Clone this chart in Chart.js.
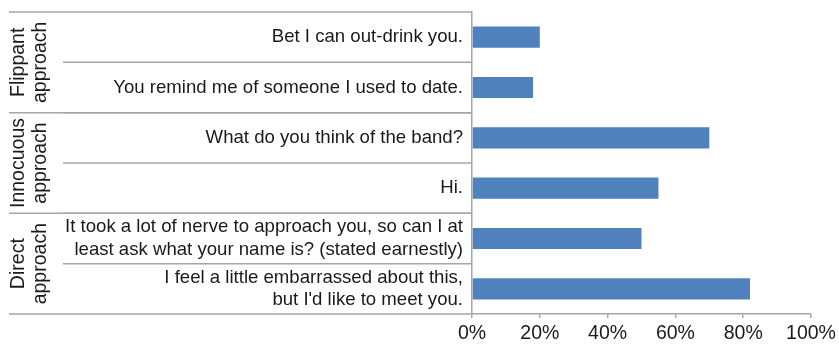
<!DOCTYPE html>
<html>
<head>
<meta charset="utf-8">
<script src="https://cdn.jsdelivr.net/npm/chart.js@4/dist/chart.umd.min.js"></script>
<style>
  html, body { margin: 0; padding: 0; background: #fff; }
  #wrap { width: 839px; height: 344px; }
</style>
</head>
<body>
<div id="wrap"><canvas id="chart"></canvas></div>
<script>
// Pickup lines and their success rate
const lines = [
  "Bet I can out-drink you.",
  "You remind me of someone I used to date.",
  "What do you think of the band?",
  "Hi.",
  ["It took a lot of nerve to approach you, so can I at", "least ask what your name is? (stated earnestly)"],
  ["I feel a little embarrassed about this,", "but I'd like to meet you."]
];
const success = [20, 18, 70, 55, 50, 82];

// Approach groups, top to bottom, and how many lines each holds
const groupNames = [["Flippant", "approach"], ["Innocuous", "approach"], ["Direct", "approach"]];
const groupSizes = [2, 2, 2];

const xTicks = [0, 20, 40, 60, 80, 100];

const FONT = "'Liberation Sans', Arial, sans-serif";
const LINE_COLOR = "#a6a6a6";

// Draws the row dividers and rotated group names left of the plot
const groupPlugin = {
  id: "groups",
  afterDraw(chart) {
    const ctx = chart.ctx;
    const y = chart.scales.y;
    const area = chart.chartArea;
    const half = (y.getPixelForValue(1) - y.getPixelForValue(0)) / 2;
    ctx.save();
    ctx.strokeStyle = LINE_COLOR;
    ctx.lineWidth = 1.5;

    let idx = 0;
    const edges = [];
    for (let i = 0; i <= lines.length; i++) edges.push(y.getPixelForValue(i) - half);

    // inner dividers between lines of the same group
    for (let i = 1; i < lines.length; i++) {
      ctx.beginPath();
      ctx.moveTo(63, edges[i]);
      ctx.lineTo(area.left, edges[i]);
      ctx.stroke();
    }

    // group borders and names
    ctx.fillStyle = "#1a1a1a";
    ctx.font = "19.5px " + FONT;
    ctx.textAlign = "center";
    ctx.textBaseline = "middle";
    for (let g = 0; g <= groupSizes.length; g++) {
      ctx.beginPath();
      ctx.moveTo(9, edges[idx]);
      ctx.lineTo(area.left, edges[idx]);
      ctx.stroke();
      if (g === groupSizes.length) break;
      const top = edges[idx];
      const bottom = edges[idx + groupSizes[g]];
      ctx.save();
      ctx.translate(30, (top + bottom) / 2);
      ctx.rotate(-Math.PI / 2);
      ctx.fillText(groupNames[g][0], 0, -11);
      ctx.fillText(groupNames[g][1], 0, 11);
      ctx.restore();
      idx += groupSizes[g];
    }
    ctx.restore();
  }
};

new Chart(document.getElementById("chart"), {
  type: "bar",
  data: {
    labels: lines,
    datasets: [{
      data: success,
      backgroundColor: "#4f81bd",
      barPercentage: 0.42,
      categoryPercentage: 1
    }]
  },
  options: {
    indexAxis: "y",
    responsive: true,
    maintainAspectRatio: false,
    animation: false,
    layout: { padding: { top: 12, right: 28, left: 0, bottom: 0 } },
    plugins: { legend: { display: false }, tooltip: { enabled: false } },
    scales: {
      x: {
        min: 0,
        max: 100,
        afterBuildTicks(scale) { scale.ticks = xTicks.map(v => ({ value: v })); },
        afterFit(scale) {
          scale.height = 30;
          scale.paddingLeft = 0;
          scale.paddingRight = 0;
        },
        border: { color: LINE_COLOR, width: 1.5 },
        grid: { drawOnChartArea: false, color: LINE_COLOR, lineWidth: 1.5, tickLength: 4 },
        ticks: {
          color: "#1a1a1a",
          font: { family: FONT, size: 19.5 },
          padding: 4,
          maxRotation: 0,
          callback: v => v + "%"
        }
      },
      y: {
        afterFit(scale) {
          scale.width = 472;
          scale.paddingTop = 0;
          scale.paddingBottom = 0;
        },
        border: { color: LINE_COLOR, width: 1.5 },
        grid: { display: false },
        ticks: {
          color: "#1a1a1a",
          font: { family: FONT, size: 18.6, lineHeight: 1.2 },
          padding: 1
        }
      }
    }
  },
  plugins: [groupPlugin]
});
</script>
</body>
</html>
